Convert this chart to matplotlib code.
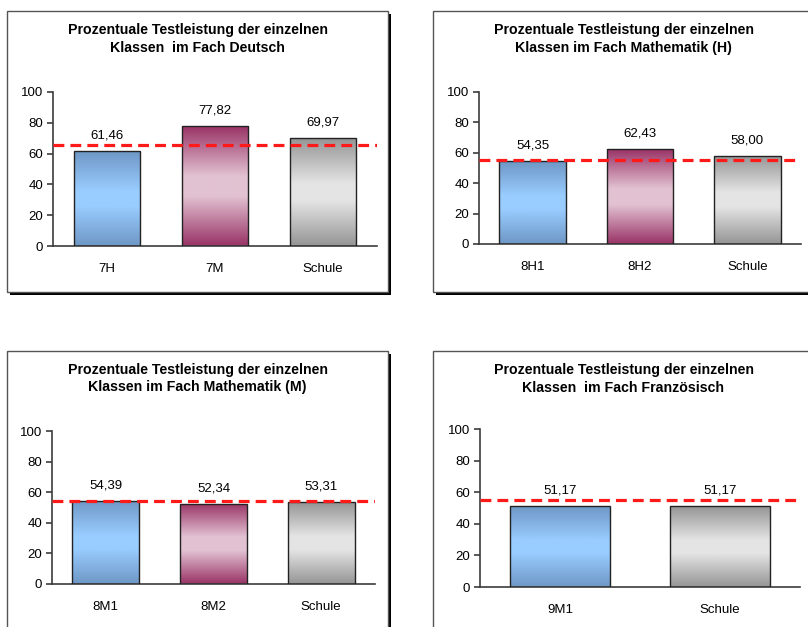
import matplotlib
matplotlib.use("Agg")
import matplotlib.pyplot as plt
import numpy as np
from matplotlib.patches import Rectangle
from matplotlib.colors import to_rgb

plt.rcParams['font.family'] = ['Liberation Sans', 'DejaVu Sans']

# Testergebnisse je Fach (Prozent)
title_top = "Prozentuale Testleistung der einzelnen"

deutsch_title = "Klassen  im Fach Deutsch"
deutsch_labels = ['7H', '7M', 'Schule']
deutsch_values = [61.46, 77.82, 69.97]
deutsch_ref = 65.5

mathe_h_title = "Klassen im Fach Mathematik (H)"
mathe_h_labels = ['8H1', '8H2', 'Schule']
mathe_h_values = [54.35, 62.43, 58.00]
mathe_h_ref = 55.0

mathe_m_title = "Klassen im Fach Mathematik (M)"
mathe_m_labels = ['8M1', '8M2', 'Schule']
mathe_m_values = [54.39, 52.34, 53.31]
mathe_m_ref = 54.0

franz_title = "Klassen  im Fach Französisch"
franz_labels = ['9M1', 'Schule']
franz_values = [51.17, 51.17]
franz_ref = 55.0

# Verlaufsfarben: (Rand, Mitte)
BLUE = ('#6e97c5', '#99ccff')
WINE = ('#993366', '#e2c2d2')
GREY = ('#959595', '#e4e4e4')

W, H = 808, 627
fig = plt.figure(figsize=(W / 100, H / 100), dpi=100)
fig.patch.set_facecolor('white')


def gradient(edge, mid, n=200):
    t = np.linspace(0, 1, n)
    w = 1 - np.abs(t - 0.5) * 2
    w = np.clip(w * 1.2, 0, 1)
    e = np.array(to_rgb(edge))
    m = np.array(to_rgb(mid))
    cols = e[None, :] * (1 - w[:, None]) + m[None, :] * w[:, None]
    return cols[:, None, :]


def draw_box(x0, y0, x1, y1):
    # Rahmen mit Schatten in Pixelkoordinaten
    sh = Rectangle(((x0 + 3) / W, 1 - (y1 + 3) / H), (x1 - x0) / W, (y1 - y0) / H,
                   transform=fig.transFigure, facecolor='black', edgecolor='none', zorder=-3)
    bx = Rectangle((x0 / W, 1 - y1 / H), (x1 - x0) / W, (y1 - y0) / H,
                   transform=fig.transFigure, facecolor='white', edgecolor='#555555',
                   lw=1, zorder=-2)
    fig.add_artist(sh)
    fig.add_artist(bx)


def draw_chart(box, axbox, title_y, subtitle, labels, values, colors, ref):
    draw_box(*box)
    cx = (box[0] + box[2]) / 2
    fig.text(cx / W, 1 - title_y / H, title_top + "\n" + subtitle, ha='center', va='center',
             fontsize=10.2, fontweight='bold', linespacing=1.3)

    left, right, y0, y100 = axbox
    ax = fig.add_axes([left / W, 1 - y0 / H, (right - left) / W, (y0 - y100) / H])
    ax.set_facecolor('none')
    n = len(labels)
    x = np.arange(n)
    width = 0.62
    bars = ax.bar(x, values, width=width, facecolor='none', edgecolor='#222222', lw=1, zorder=3)
    for b, v, c in zip(bars, values, colors):
        im = ax.imshow(gradient(*c), extent=[b.get_x(), b.get_x() + width, 0, v],
                       aspect='auto', zorder=2, interpolation='bilinear')
        im.set_clip_path(b)
        ax.annotate(f"{v:.2f}".replace('.', ','), (b.get_x() + width / 2, v),
                    xytext=(0, 7), textcoords='offset points', ha='center', va='bottom',
                    fontsize=9.5)
    ax.axhline(ref, color='#ff1a1a', lw=2.3, dashes=(3.4, 1.9), zorder=4)

    ax.set_xlim(-0.5, n - 0.5)
    ax.set_ylim(0, 100)
    ax.set_yticks(range(0, 101, 20))
    ax.set_xticks(x)
    ax.set_xticklabels(labels)
    for s in ['top', 'right']:
        ax.spines[s].set_visible(False)
    for s in ['left', 'bottom']:
        ax.spines[s].set_color('#3c3c3c')
        ax.spines[s].set_linewidth(1.2)
    ax.tick_params(axis='y', direction='out', length=4, width=1.2, color='#3c3c3c',
                   labelsize=9.5, pad=3)
    ax.tick_params(axis='x', length=0, labelsize=9.5, pad=12)
    return ax


draw_chart((7, 11, 388, 292), (53, 377, 246, 92), 39, deutsch_title,
           deutsch_labels, deutsch_values, [BLUE, WINE, GREY], deutsch_ref)
draw_chart((433, 11, 814, 292), (479, 801, 244, 92), 39, mathe_h_title,
           mathe_h_labels, mathe_h_values, [BLUE, WINE, GREY], mathe_h_ref)
draw_chart((7, 351, 388, 640), (52, 375, 584, 431), 378.5, mathe_m_title,
           mathe_m_labels, mathe_m_values, [BLUE, WINE, GREY], mathe_m_ref)
draw_chart((433, 351, 814, 640), (480, 800, 587, 429), 379, franz_title,
           franz_labels, franz_values, [BLUE, GREY], franz_ref)

fig.savefig('out.png', dpi=100, facecolor='white')
